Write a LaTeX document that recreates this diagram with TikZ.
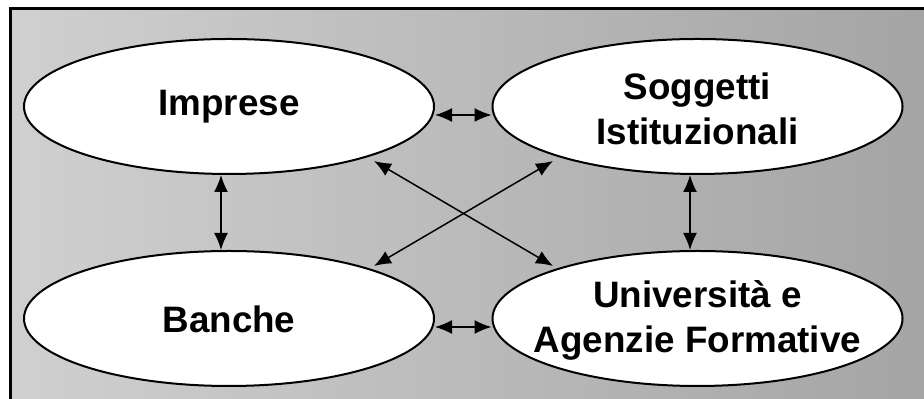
\documentclass[tikz,border=0pt]{standalone}
\usepackage{fontspec}
\setmainfont{Liberation Sans}
\usetikzlibrary{shapes.geometric,arrows.meta}
\definecolor{bgl}{RGB}{208,208,208}
\definecolor{bgr}{RGB}{164,164,164}
\begin{document}
\begin{tikzpicture}[x=0.5pt,y=0.5pt,
  ell/.style={ellipse, draw, fill=white, line width=1pt, minimum width=205pt, minimum height=67.5pt, inner sep=0pt},
  lab/.style={align=center, inner sep=0pt, font=\fontsize{18.4}{22.5}\selectfont\bfseries},
  dbl/.style={{Latex[length=8.5pt,width=7pt]}-{Latex[length=8.5pt,width=7pt]}, line width=0.75pt}]
\useasboundingbox (0,0) rectangle (924,399);
\clip (0,0) rectangle (924,399);
\shade[left color=bgl, right color=bgr] (10,-10) rectangle (934,390);
\draw[line width=1.5pt] (10,-10) |- (934,390);
\node[ell] (imp) at (229,292.5){};
\node[lab] (impt) at (229,292.5){Imprese};
\node[ell] (sog) at (697.5,292.5){};
\node[lab] (sogt) at (697.5,290.5){Soggetti\\Istituzionali};
\node[ell] (ban) at (229,80.5){};
\node[lab] (bant) at (229,79.5){Banche};
\node[ell] (uni) at (697.5,80.5){};
\node[lab] (unit) at (697.5,78.5){Università e\\Agenzie Formative};
\draw[dbl]([shift={(0,-8.5)}]imp.east) -- ([shift={(0,-8.5)}]sog.west);
\draw[dbl]([shift={(0,-8.5)}]ban.east) -- ([shift={(0,-8.5)}]uni.west);
\draw[dbl]([shift={(-8,0)}]imp.south) -- ([shift={(-8,0)}]ban.north);
\draw[dbl]([shift={(-7.5,0)}]sog.south) -- ([shift={(-7.5,0)}]uni.north);
\draw[dbl]([shift={(145,-54.5)}]imp.center) -- ([shift={(-144.5,52.5)}]uni.center);
\draw[dbl]([shift={(-144.5,-54.5)}]sog.center) -- ([shift={(145,52.5)}]ban.center);

\end{tikzpicture}
\end{document}
